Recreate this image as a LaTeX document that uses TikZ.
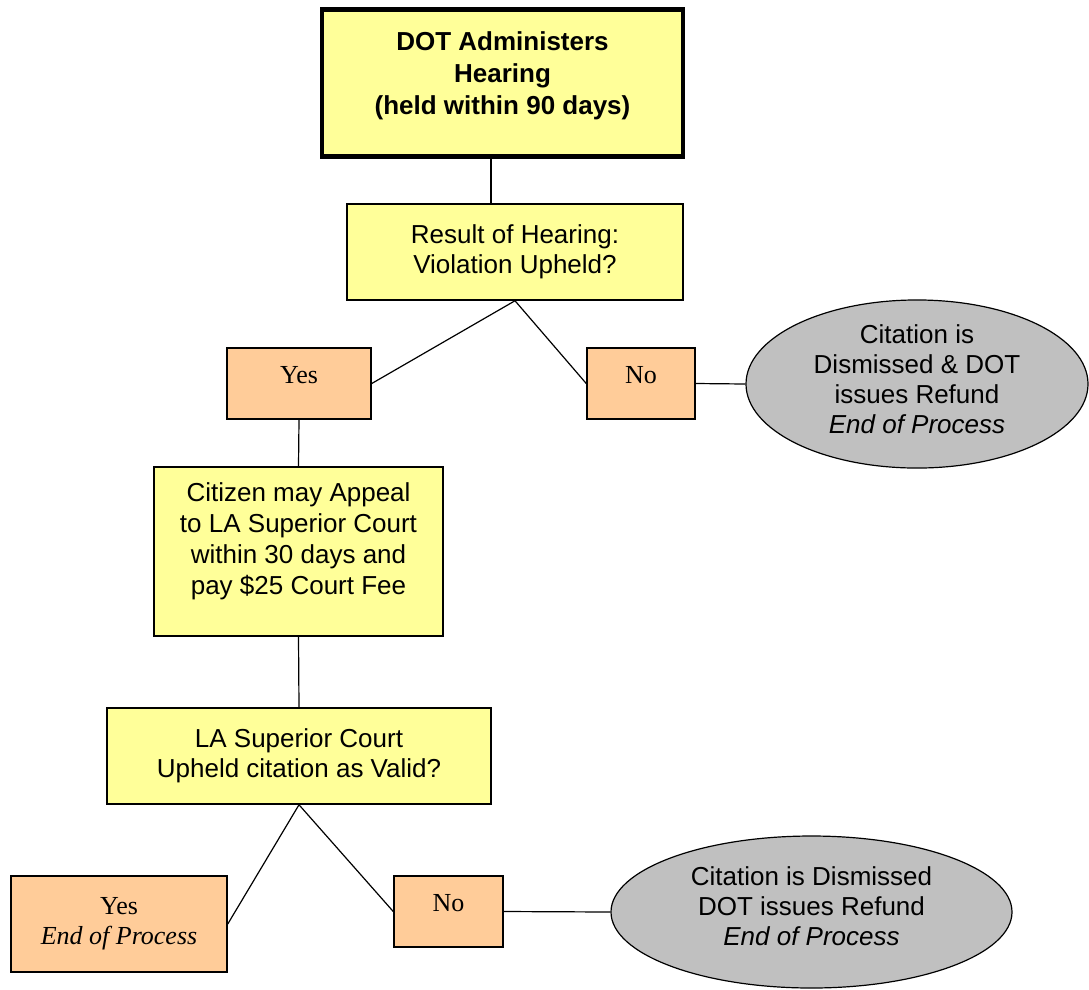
\documentclass[tikz,border=0pt]{standalone}
\usepackage{fontspec}
\setmainfont{Liberation Sans}
\newfontfamily\timesfont{Liberation Serif}
\usetikzlibrary{shapes.geometric,positioning}
\definecolor{boxyellow}{HTML}{FFFF99}
\definecolor{boxorange}{HTML}{FFCC99}
\definecolor{endgray}{HTML}{C0C0C0}

\begin{document}
\begin{tikzpicture}[x=1pt,y=-1pt,font=\fontsize{26}{30}\selectfont]

\tikzset{stepnode/.style={draw,line width=1.5pt,fill=boxyellow,align=center,inner sep=0pt},
answernode/.style={draw,line width=1.5pt,fill=boxorange,align=center,inner sep=0pt,font=\fontsize{26}{30}\selectfont\timesfont},
oneline/.style={text height=17pt,text depth=17pt},
endnode/.style={draw,line width=1.2pt,fill=endgray,shape=ellipse,align=center,inner sep=0pt},
link/.style={line width=1.2pt}}

% Page frame
\useasboundingbox (0,0) rectangle (1089,989);

% Hearing
\node[stepnode,line width=4.5pt,font=\fontsize{26}{32}\selectfont\bfseries,minimum width=361pt,minimum height=147pt] (hearing) at (502.5,83) {DOT Administers\\Hearing\\(held within 90 days)\\[-22pt]\strut};
\node[stepnode,minimum width=336pt,minimum height=96pt] (result) at (515,252) {Result of Hearing:\\Violation Upheld?};

% First answer
\node[answernode,oneline,minimum width=144pt,minimum height=71pt] (yes1) at (299,383.5) {Yes};
\node[answernode,oneline,minimum width=108pt,minimum height=71pt] (no1) at (641,383.5) {No};
\node[endnode,text depth=10pt,minimum width=342pt,minimum height=168pt] (dismiss1) at (917,384) {Citation is\\Dismissed \& DOT\\issues Refund\\\textit{End of Process}};

% Appeal
\node[stepnode,font=\fontsize{26}{31}\selectfont,minimum width=289pt,minimum height=169pt] (appeal) at (298.5,551.5) {Citizen may Appeal\\to LA Superior Court\\within 30 days and\\pay \$25 Court Fee\\[-14pt]\strut};
\node[stepnode,minimum width=384pt,minimum height=96pt] (court) at (299,756) {LA Superior Court\\Upheld citation as Valid?};

% Second answer
\node[answernode,minimum width=216pt,minimum height=96pt] (yes2) at (119,924) {Yes\\\textit{End of Process}};
\node[answernode,oneline,minimum width=109pt,minimum height=71pt] (no2) at (448.5,911.5) {No};
\node[endnode,text depth=12pt,minimum width=401pt,minimum height=152pt] (dismiss2) at (811.5,912) {Citation is Dismissed\\DOT issues Refund\\\textit{End of Process}};

% Edges
\draw[link] ([xshift=-11.5pt]hearing.south) -- ([xshift=-24pt]result.north);
\draw[link] (result.south) -- (yes1.east);
\draw[link] (result.south) -- (no1.west);
\draw[link] (no1.east) -- (dismiss1.west);
\draw[link] (yes1.south) -- (appeal.north);
\draw[link] (appeal.south) -- (court.north);
\draw[link] (court.south) -- (yes2.east);
\draw[link] (court.south) -- (no2.west);
\draw[link] (no2.east) -- (dismiss2.west);

\end{tikzpicture}
\end{document}
